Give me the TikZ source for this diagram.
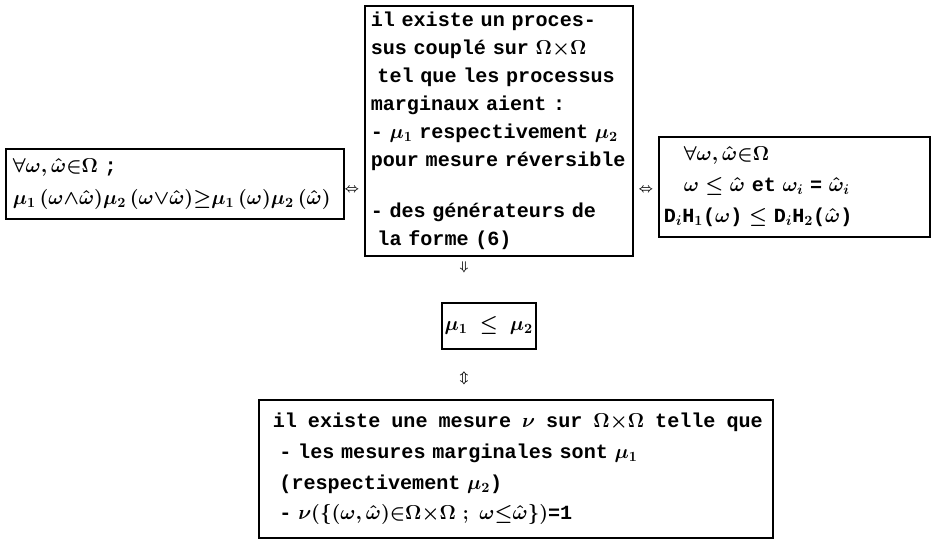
\RequirePackage{fix-cm}
\documentclass[tikz,border=0pt]{standalone}
\usepackage{amsmath}
\usepackage{amssymb}
\usepackage{fontspec}
\setmonofont{Liberation Mono}
\usetikzlibrary{positioning}

\newcommand{\machine}[1]{\fontsize{14.3}{#1}\selectfont\ttfamily\bfseries\boldmath\spaceskip=0.6em\relax}

\begin{document}
\begin{tikzpicture}[x=0.025cm,y=-0.025cm,
  boite/.style={draw,line width=1.1pt,anchor=north west,align=left,inner ysep=0pt,font=\machine{20}},
  fleche/.style={inner sep=0pt,font=\boldmath\small}]
\useasboundingbox (0,0) rectangle (933,540);

% les trois conditions
\node[boite,inner xsep=0.175cm,text width=8.1cm,minimum height=1.75cm,font=\machine{22.5}] (gauche) at (5,148)
  {$\forall\omega,\hat\omega{\in}\Omega$ ;\\
   $\mu_1\,(\omega{\wedge}\hat\omega)\mu_2\,(\omega{\vee}\hat\omega){\geq}\mu_1\,(\omega)\mu_2\,(\hat\omega)$};

\node[boite,inner xsep=0.15cm,text width=6.4cm,minimum height=6.25cm] (centre) at (364,5)
  {il existe un proces-\\
   sus couplé sur $\Omega{\times}\Omega$\\
   \ tel que les processus\\
   marginaux aient :\\
   - $\mu_1$ respectivement $\mu_2$\\
   pour mesure réversible\\[16pt]
   - des générateurs de\\
   \ la forme (6)};

\node[boite,inner xsep=0.125cm,text width=6.525cm,minimum height=2.5cm,font=\machine{22}] (droite) at (658,136)
  {\hspace*{1em}$\forall\omega,\hat\omega{\in}\Omega$\\
   \hspace*{1em}$\omega\leq\hat\omega$ et $\omega_i$ = $\hat\omega_i$\\
   D$_i$H$_1$($\omega$) $\leq$ D$_i$H$_2$($\hat\omega$)};

\node[fleche] (eq1) at (352,190) {$\Leftrightarrow$};
\node[fleche] (eq2) at (646,190) {$\Leftrightarrow$};
\node[fleche] (impl) at (464,267) {$\Downarrow$};

% resultat
\node[boite,align=center,inner xsep=0pt,minimum width=2.35cm,minimum height=1.15cm] (ordre) at (441,302)
  {$\mu_1$ $\leq$ $\mu_2$};

\node[fleche] (eq3) at (464,378) {$\Updownarrow$};

\node[boite,inner xsep=0.35cm,text width=12.15cm,minimum height=3.45cm,font=\machine{22}] (couplage) at (258,399)
  {\mbox{\spaceskip=0.55em\relax il existe une mesure $\nu$ sur $\Omega{\times}\Omega$ telle que}\\
   \ - les mesures marginales sont $\mu_1$\\
   \ (respectivement $\mu_2$)\\
   \ - $\nu(\{(\omega,\hat\omega){\in}\Omega{\times}\Omega\ ;\ \omega{\leq}\hat\omega\})$=1};
\end{tikzpicture}
\end{document}
